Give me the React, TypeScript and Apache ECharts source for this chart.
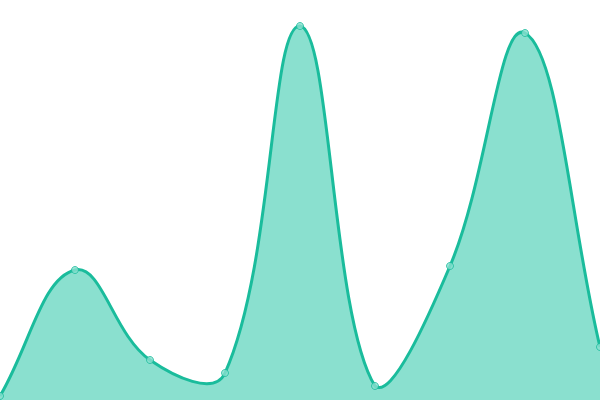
import React, { useEffect, useRef } from "react";
import * as echarts from "echarts";

const categories = ["1", "2", "3", "4", "5", "6", "7", "8", "9"];
const values = [4, 130, 40, 27, 374, 14, 134, 367, 53];

const TENSION = 0.4;

function buildPaths(pts: number[][], baseY: number, area: { x: number; y: number; width: number; height: number }) {
  const n = pts.length;
  const cps = pts.map((cur, i) => {
    const prev = i === 0 ? cur : pts[i - 1];
    const next = i === n - 1 ? cur : pts[i + 1];
    const d01 = Math.hypot(cur[0] - prev[0], cur[1] - prev[1]);
    const d12 = Math.hypot(next[0] - cur[0], next[1] - cur[1]);
    let s01 = d01 / (d01 + d12);
    let s12 = d12 / (d01 + d12);
    if (isNaN(s01)) s01 = 0;
    if (isNaN(s12)) s12 = 0;
    const fa = TENSION * s01;
    const fb = TENSION * s12;
    const clampX = (x: number) => Math.min(Math.max(x, area.x), area.x + area.width);
    const clampY = (y: number) => Math.min(Math.max(y, area.y), area.y + area.height);
    return {
      p: [clampX(cur[0] - fa * (next[0] - prev[0])), clampY(cur[1] - fa * (next[1] - prev[1]))],
      n: [clampX(cur[0] + fb * (next[0] - prev[0])), clampY(cur[1] + fb * (next[1] - prev[1]))],
    };
  });
  let line = `M${pts[0][0]},${pts[0][1]}`;
  for (let i = 1; i < n; i++) {
    const c1 = cps[i - 1].n;
    const c2 = cps[i].p;
    line += ` C${c1[0]},${c1[1]} ${c2[0]},${c2[1]} ${pts[i][0]},${pts[i][1]}`;
  }
  const areaD = `${line} L${pts[n - 1][0]},${baseY} L${pts[0][0]},${baseY} Z`;
  return { line, areaD };
}

export default function App() {
  const ref = useRef<HTMLDivElement>(null);
  useEffect(() => {
    const chart = echarts.init(ref.current!, undefined, { renderer: "svg" });
    chart.setOption({
      animation: false,
      grid: { left: 0, right: 0, top: 0, bottom: 0 },
      xAxis: {
        type: "category",
        data: categories,
        boundaryGap: false,
        show: false,
      },
      yAxis: { type: "value", min: 0, max: 400, show: false },
      series: [
        {
          type: "custom",
          data: values.map((v, i) => [i, v]),
          encode: { x: 0, y: 1 },
          clip: true,
          z: 1,
          renderItem: (params: any, api: any) => {
            if (params.dataIndex !== 0) return null;
            const pts = values.map((v, i) => api.coord([i, v]));
            const baseY = api.coord([0, 0])[1];
            const { line, areaD } = buildPaths(pts, baseY, params.coordSys);
            return {
              type: "group",
              children: [
                {
                  type: "path",
                  shape: { pathData: areaD },
                  style: { fill: "#8ae0cf", stroke: "none" },
                },
                {
                  type: "path",
                  shape: { pathData: line },
                  style: { fill: "none", stroke: "#1abc9c", lineWidth: 3 },
                },
              ],
            };
          },
        },
        {
          type: "scatter",
          data: values,
          z: 3,
          symbol: "circle",
          symbolSize: 7,
          itemStyle: { color: "#8ae0cf", borderColor: "#1abc9c", borderWidth: 1 },
        },
      ],
    });
    return () => chart.dispose();
  }, []);
  return (
    <div
      ref={ref}
      style={{ position: "fixed", left: 0, top: 0, width: 600, height: 400 }}
    />
  );
}
